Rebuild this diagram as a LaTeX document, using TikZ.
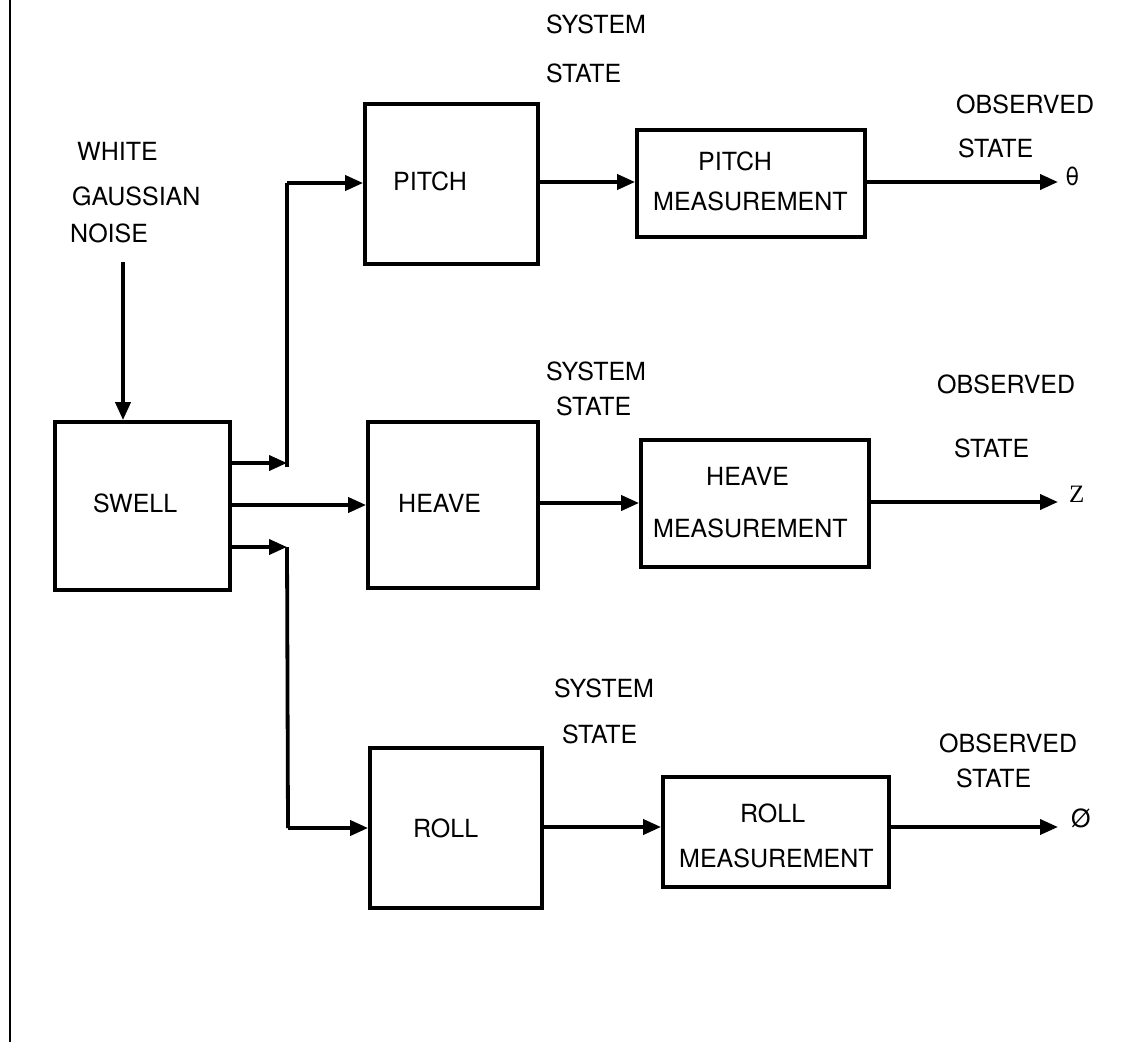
\documentclass[tikz,border=0pt]{standalone}
\usepackage{fontspec}
\setmainfont{TeX Gyre Heros}
\newfontfamily\serifz{Liberation Serif}
\usetikzlibrary{arrows.meta}
\begin{document}
\begin{tikzpicture}[x=1pt,y=-1pt,
  blk/.style={draw,line width=3.8pt,inner sep=0pt},
  lbl/.style={anchor=base west,inner sep=0pt,font=\fontsize{25}{30}\selectfont},
  arr/.style={line width=3.8pt,-{Triangle[length=18pt,width=15pt]}},
  wire/.style={line width=3.8pt}]
\useasboundingbox (0,0) rectangle (1128,1042);
% left border line
\coordinate (bt) at (10,0);
\coordinate (bb) at (10,1042);
\draw[line width=2.2pt] (bt) -- (bb);
% boxes
\node[blk,minimum width=175pt,minimum height=168pt] (swell) at (142.5,506) {};
\node[blk,minimum width=173pt,minimum height=160pt] (pitch) at (451.5,184) {};
\node[blk,minimum width=170pt,minimum height=166pt] (heave) at (453,505) {};
\node[blk,minimum width=172pt,minimum height=160pt] (roll) at (456,828) {};
\node[blk,minimum width=228pt,minimum height=107pt] (pm) at (751,183.5) {};
\node[blk,minimum width=228pt,minimum height=127pt] (hm) at (755,503.5) {};
\node[blk,minimum width=226pt,minimum height=110pt] (rm) at (776,832) {};
% texts
\node[lbl] (t1) at (77,160) {WHITE};
\node[lbl] (t2) at (72,205) {GAUSSIAN};
\node[lbl] (t3) at (70,242) {NOISE};
\node[lbl] (sw) at (93,512) {SWELL};
\node[lbl] (p1) at (393,190) {PITCH};
\node[lbl] (h1) at (398,512) {HEAVE};
\node[lbl] (r1) at (413,837) {ROLL};
\node[lbl] (ss1) at (546,33) {SYSTEM};
\node[lbl] (st1) at (546,82) {STATE};
\node[lbl] (ss2) at (546,380) {SYSTEM};
\node[lbl] (st2) at (556,415) {STATE};
\node[lbl] (ss3) at (554,697) {SYSTEM};
\node[lbl] (st3) at (562,743) {STATE};
\node[lbl] (pm1) at (698,170) {PITCH};
\node[lbl] (pm2) at (653,210) {MEASUREMENT};
\node[lbl] (hm1) at (706,485) {HEAVE};
\node[lbl] (hm2) at (653,537) {MEASUREMENT};
\node[lbl] (rm1) at (740,822) {ROLL};
\node[lbl] (rm2) at (679,867) {MEASUREMENT};
\node[lbl] (ob1) at (956,113) {OBSERVED};
\node[lbl] (os1) at (958,157) {STATE};
\node[lbl] (ob2) at (937,393) {OBSERVED};
\node[lbl] (os2) at (954,457) {STATE};
\node[lbl] (ob3) at (939,752) {OBSERVED};
\node[lbl] (os3) at (956,787) {STATE};
\node[lbl] (theta) at (1065,185) {θ};
\node[lbl,font=\fontsize{25}{30}\selectfont\serifz] (zz) at (1069,502) {Z};
\node[lbl] (phi) at (1071,827) {Ø};
% connectors
\coordinate (noise) at (123,262);
\draw[arr] (noise) -- (noise |- swell.north);
\coordinate (j1) at (287,463);
\coordinate (j1b) at (287,467);
\coordinate (j1t) at (287,183);
\coordinate (j3) at (287,547);
\coordinate (j3b) at (288,828);
\draw[arr] (swell.east |- j1) -- (j1);
\draw[wire] (j1b) -- (j1t);
\draw[arr] (j1t) -- (pitch.west |- j1t);
\draw[arr] (swell.east |- heave.west) -- (heave.west);
\draw[arr] (swell.east |- j3) -- (j3);
\draw[wire] (j3) -- (j3b);
\draw[arr] (j3b) -- (roll.west |- j3b);
\draw[arr] (pitch.east |- 0,182) -- (pm.west |- 0,182);
\draw[arr] (heave.east |- 0,503) -- (hm.west |- 0,503);
\draw[arr] (roll.east |- 0,827) -- (rm.west |- 0,827);
\coordinate (o1) at (1058,182);
\coordinate (o2) at (1058,502);
\coordinate (o3) at (1058,827);
\draw[arr] (pm.east |- o1) -- (o1);
\draw[arr] (hm.east |- o2) -- (o2);
\draw[arr] (rm.east |- o3) -- (o3);
\end{tikzpicture}
\end{document}
